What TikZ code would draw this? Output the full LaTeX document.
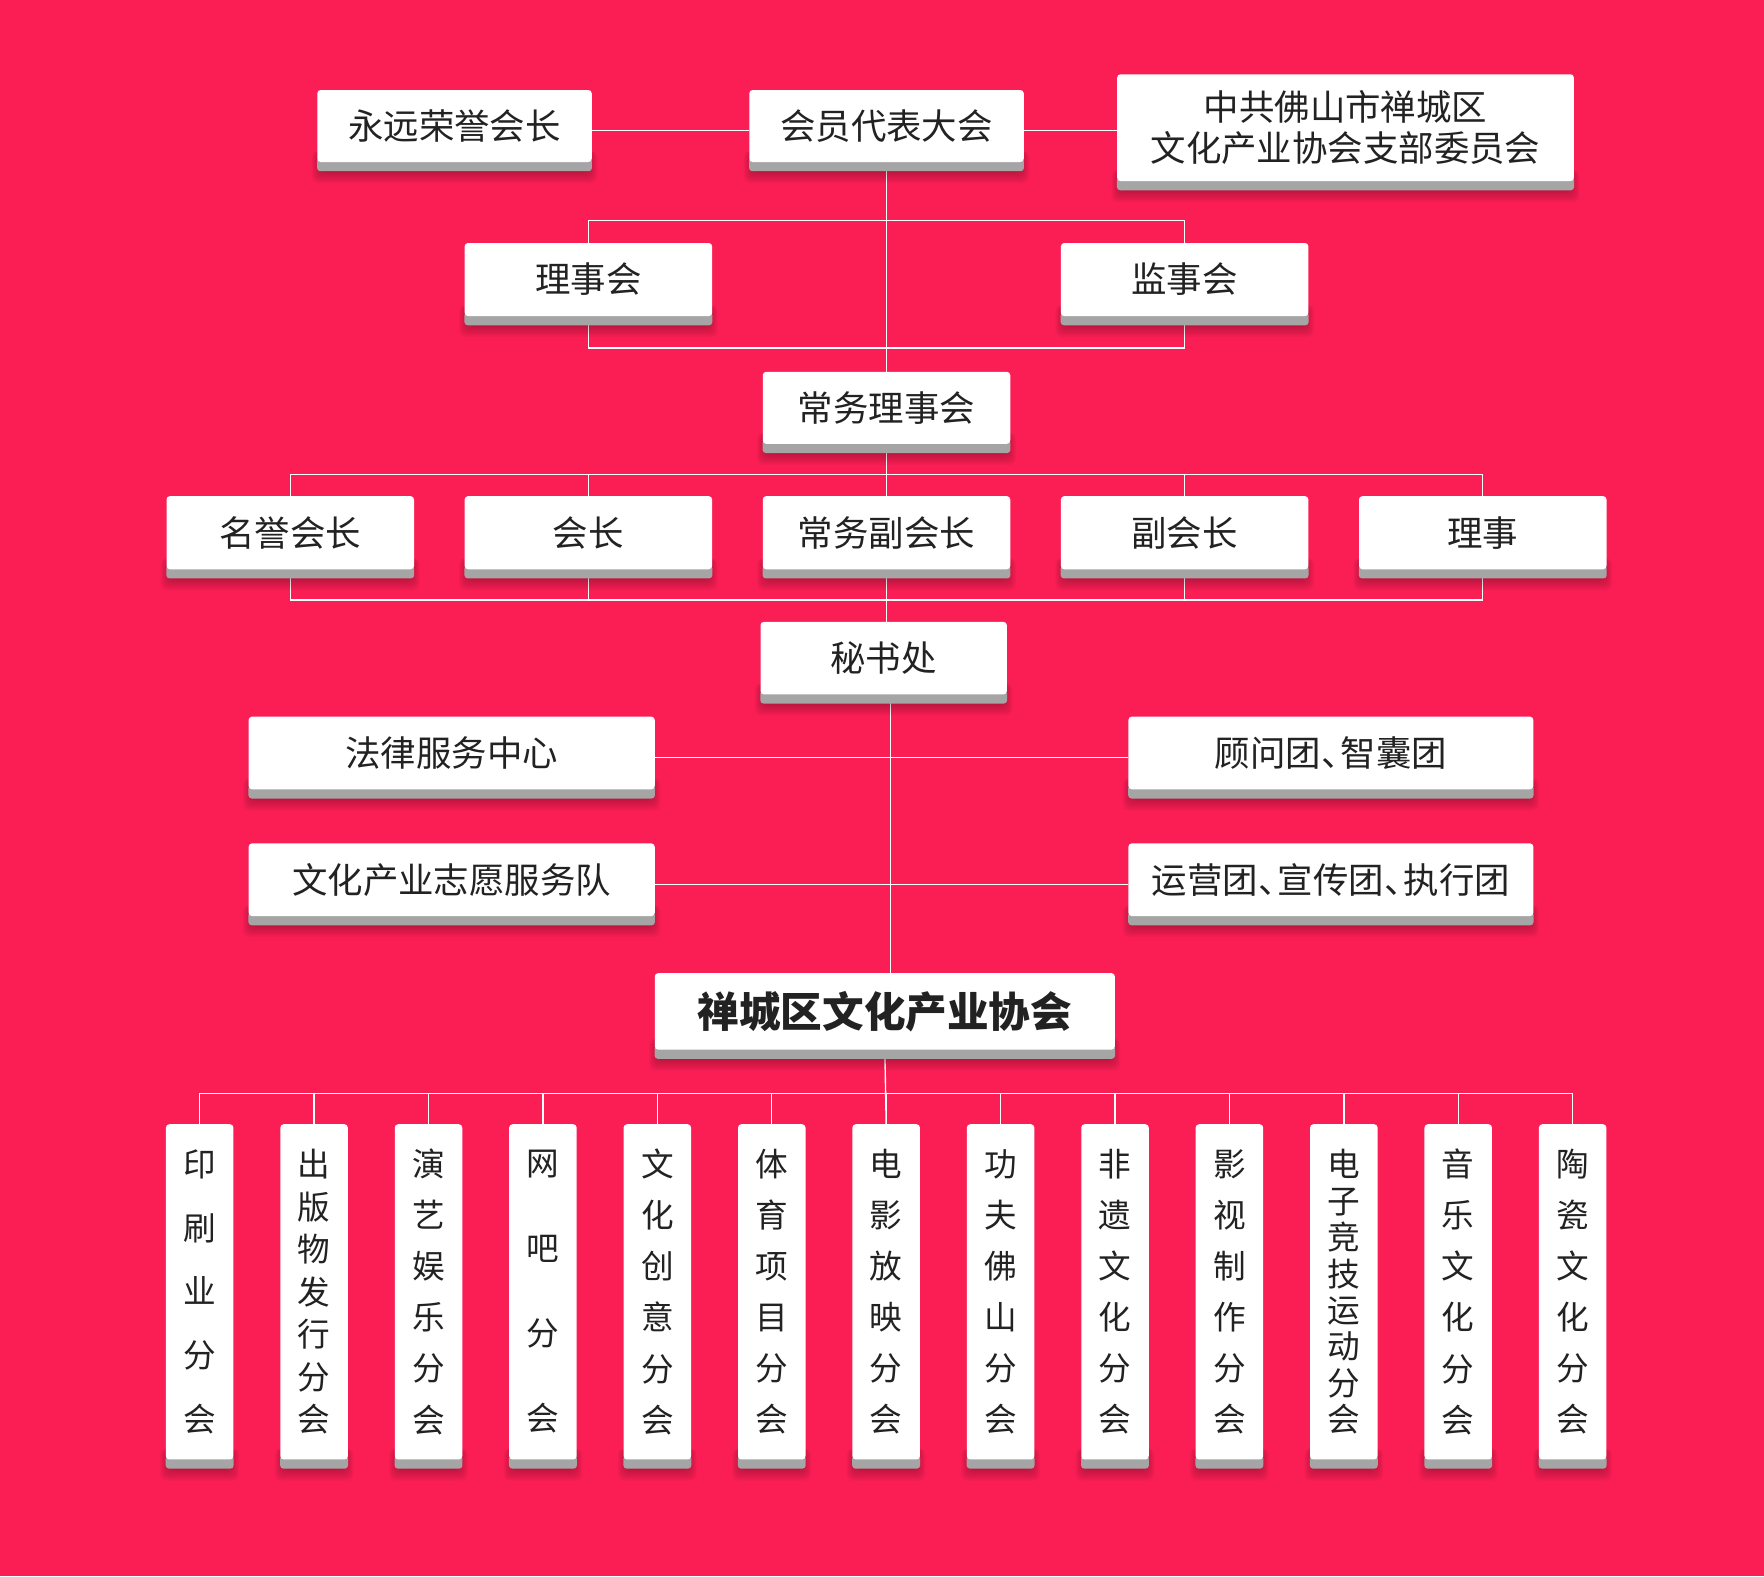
\documentclass[tikz,border=0pt]{standalone}
\usepackage{fontspec}
\setmainfont{Noto Sans CJK SC}
\usetikzlibrary{backgrounds}
\definecolor{bgc}{RGB}{250,30,84}
\definecolor{stripc}{RGB}{165,165,165}
\definecolor{txt}{RGB}{34,34,34}
\newcommand\dun{、\kern-0.45em}
\tikzset{
  wbox/.style={fill=white, rounded corners=3pt, inner sep=0pt, text=txt,
    font=\fontsize{31.5}{37}\selectfont, align=center},
  colbox/.style={wbox, minimum width=60, minimum height=298,
    font=\fontsize{29}{#1}\selectfont},
  link/.style={draw=white, line width=1.2pt},
}
\newcommand\deco[1]{%
  \foreach \k in {1,...,7}{%
    \fill[black, opacity=0.035, rounded corners=5pt]
      ([xshift={(3-\k*1.1)*1pt}, yshift=10pt]#1.south west) rectangle
      ([xshift={(-3+\k*1.1)*1pt}, yshift={(-8-\k*1.5)*1pt}]#1.south east);}
  \fill[stripc, rounded corners=3pt]
    ([yshift=4pt]#1.south west) rectangle ([yshift=-8pt]#1.south east);
}
\begin{document}
\begin{tikzpicture}[x=1pt, y=-1pt]
\useasboundingbox (0,0) rectangle (1568,1401);
% top row
\node[wbox, minimum width=244, minimum height=64] (hon) at (404,112) {永远荣誉会长};
\node[wbox, minimum width=244, minimum height=64] (cong) at (788,112) {会员代表大会};
\node[wbox, minimum width=406, minimum height=95] (party) at (1196,113.5) {中共佛山市禅城区\\文化产业协会支部委员会};
% second row
\node[wbox, minimum width=220, minimum height=65] (lsh) at (523,248.5) {理事会};
\node[wbox, minimum width=220, minimum height=65] (jsh) at (1053,248.5) {监事会};
\node[wbox, minimum width=220, minimum height=64] (chang) at (788,362.5) {常务理事会};
% third row
\node[wbox, minimum width=220, minimum height=65] (mz) at (258,473.5) {名誉会长};
\node[wbox, minimum width=220, minimum height=65] (hz) at (523,473.5) {会长};
\node[wbox, minimum width=220, minimum height=65] (cf) at (788,473.5) {常务副会长};
\node[wbox, minimum width=220, minimum height=65] (fh) at (1053,473.5) {副会长};
\node[wbox, minimum width=220, minimum height=65] (ls) at (1318,473.5) {理事};
% secretariat
\node[wbox, minimum width=219, minimum height=64.5] (mis) at (785.5,585) {秘书处};
\node[wbox, minimum width=361, minimum height=64.6] (law) at (401.5,669.3) {法律服务中心};
\node[wbox, minimum width=360, minimum height=64.6] (adv) at (1183,669.3) {顾问团\dun 智囊团};
\node[wbox, minimum width=361, minimum height=64.6] (vol) at (401.5,782) {文化产业志愿服务队};
\node[wbox, minimum width=360, minimum height=64.6] (ops) at (1183,782) {运营团\dun 宣传团\dun 执行团};
\node[wbox, minimum width=409, minimum height=68, font=\fontsize{37}{44}\selectfont\bfseries] (assoc) at (786.5,899) {禅城区文化产业协会};
% branches
\foreach \t/\s [count=\i] in {
  {印\\刷\\业\\分\\会}/56.75,
  {出\\版\\物\\发\\行\\分\\会}/37.83,
  {演\\艺\\娱\\乐\\分\\会}/45.4,
  {网\\吧\\分\\会}/75.67,
  {文\\化\\创\\意\\分\\会}/45.4,
  {体\\育\\项\\目\\分\\会}/45.4,
  {电\\影\\放\\映\\分\\会}/45.4,
  {功\\夫\\佛\\山\\分\\会}/45.4,
  {非\\遗\\文\\化\\分\\会}/45.4,
  {影\\视\\制\\作\\分\\会}/45.4,
  {电\\子\\竞\\技\\运\\动\\分\\会}/32.43,
  {音\\乐\\文\\化\\分\\会}/45.4,
  {陶\\瓷\\文\\化\\分\\会}/45.4}
  \node[colbox=\s] (c\i) at ({177.5+101.7*(\i-1)},1148.3) {\t};

\begin{scope}[on background layer]
\fill[bgc] (0,0) rectangle (1568,1401);
% connectors
\draw[link] ([yshift=-4pt]hon.east) -- ([yshift=-4pt]cong.west);
\draw[link] ([yshift=-4pt]cong.east) -- ([yshift=-4pt]cong.east -| party.west);
\draw[link] (cong.south) -- (chang.north);
\draw[link] (lsh.north) -- ++(0,-20) -| (jsh.north);
\draw[link] (lsh.south) -- ++(0,28) -| (jsh.south);
\draw[link] (chang.south) -- (cf.north);
\draw[link] (mz.north) -- ++(0,-19) -| (ls.north);
\foreach \n in {hz,cf,fh} \draw[link] (\n.north) -- ++(0,-19);
\draw[link] (mz.south) -- ++(0,27) -| (ls.south);
\foreach \n in {hz,fh} \draw[link] (\n.south) -- ++(0,27);
\draw[link] (cf.south) -- (cf.south |- mis.north);
\draw[link] ([xshift=6pt]mis.south) -- ([xshift=6pt]mis.south |- assoc.north);
\draw[link] ([yshift=-4pt]law.east) -- ([yshift=-4pt]adv.west);
\draw[link] ([yshift=-4pt]vol.east) -- ([yshift=-4pt]ops.west);
\draw[link] (assoc.south) -- (c7.north);
\draw[link] (c1.north) -- ++(0,-27) -| (c13.north);
\foreach \i in {2,...,12} \draw[link] (c\i.north) -- ++(0,-27);
% box strips and shadows
\foreach \n in {hon,cong,party,lsh,jsh,chang,mz,hz,cf,fh,ls,mis,law,adv,vol,ops,assoc,c1,c2,c3,c4,c5,c6,c7,c8,c9,c10,c11,c12,c13}
  \deco{\n};
\end{scope}
\end{tikzpicture}
\end{document}
